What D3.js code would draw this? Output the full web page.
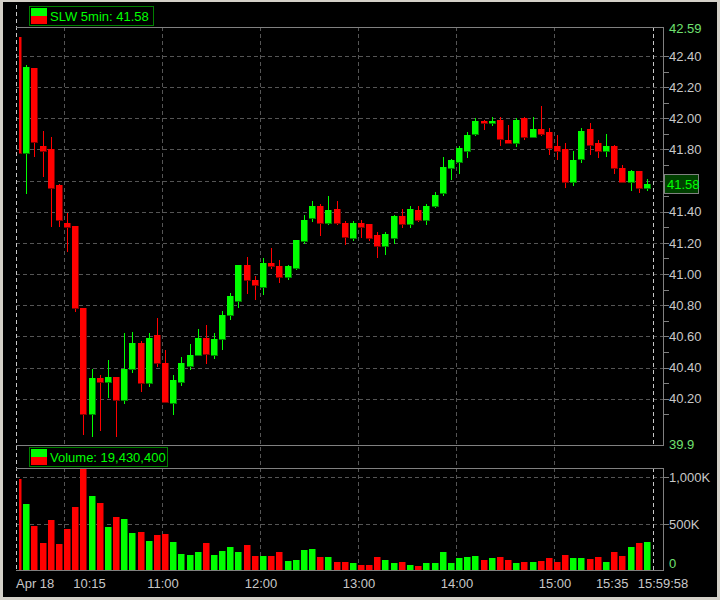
<!DOCTYPE html>
<html>
<head>
<meta charset="utf-8">
<script src="https://cdn.jsdelivr.net/npm/d3@7"></script>
<style>
html,body{margin:0;padding:0;background:#d4d0c8;}
svg{display:block;}
text{font-family:"Liberation Sans",Arial,sans-serif;font-size:13px;}
</style>
</head>
<body>
<div id="chart"></div>
<script>
// ---------------- data ----------------
const times = ["09:30","09:35","09:40","09:45","09:50","09:55","10:00","10:05","10:10","10:15","10:20","10:25",
"10:30","10:35","10:40","10:45","10:50","10:55","11:00","11:05","11:10","11:15","11:20","11:25",
"11:30","11:35","11:40","11:45","11:50","11:55","12:00","12:05","12:10","12:15","12:20","12:25",
"12:30","12:35","12:40","12:45","12:50","12:55","13:00","13:05","13:10","13:15","13:20","13:25",
"13:30","13:35","13:40","13:45","13:50","13:55","14:00","14:05","14:10","14:15","14:20","14:25",
"14:30","14:35","14:40","14:45","14:50","14:55","15:00","15:05","15:10","15:15","15:20","15:25",
"15:30","15:35","15:40","15:45","15:50","15:55"];
const opens = [42.52,41.78,42.32,41.82,41.80,41.57,41.33,41.31,40.78,40.10,40.33,40.31,
40.34,40.19,40.39,40.56,40.30,40.61,40.43,40.17,40.31,40.41,40.48,40.59,
40.48,40.58,40.74,40.83,41.06,40.96,40.92,41.07,41.05,40.98,41.04,41.21,
41.36,41.44,41.33,41.42,41.33,41.23,41.33,41.32,41.25,41.18,41.23,41.37,
41.32,41.41,41.35,41.44,41.52,41.68,41.72,41.79,41.90,41.98,41.97,41.99,
41.86,41.84,42.00,41.88,41.93,41.91,41.82,41.80,41.59,41.74,41.93,41.84,
41.79,41.82,41.68,41.59,41.66,41.55];
const highs = [42.54,42.34,42.32,41.92,41.88,41.58,41.39,41.31,40.78,40.39,40.35,40.45,
40.34,40.62,40.63,40.57,40.62,40.72,40.51,40.35,40.47,40.55,40.65,40.67,
40.62,40.76,40.88,41.06,41.11,40.99,41.10,41.17,41.09,41.06,41.22,41.38,
41.47,41.45,41.50,41.47,41.34,41.34,41.35,41.32,41.27,41.27,41.38,41.42,
41.44,41.44,41.45,41.53,41.75,41.74,41.82,41.91,42.00,41.99,42.01,42.01,
41.96,42.00,42.01,42.01,42.08,41.94,41.89,41.84,41.79,41.94,41.97,41.86,
41.90,41.83,41.70,41.67,41.66,41.61];
const lows = [41.63,41.52,41.76,41.63,41.31,41.31,41.15,40.76,39.97,39.96,40.00,40.21,
39.96,40.17,40.37,40.25,40.28,40.41,40.18,40.10,40.29,40.39,40.48,40.43,
40.46,40.52,40.71,40.79,40.88,40.84,40.875,41.04,40.95,40.97,41.03,41.20,
41.34,41.25,41.32,41.32,41.19,41.22,41.24,41.22,41.11,41.13,41.20,41.30,
41.30,41.34,41.32,41.43,41.51,41.61,41.65,41.75,41.89,41.93,41.96,41.83,
41.84,41.82,41.87,41.88,41.89,41.77,41.74,41.56,41.57,41.72,41.77,41.75,
41.76,41.65,41.59,41.54,41.53,41.54];
const closes = [41.78,42.33,41.85,41.79,41.55,41.35,41.30,40.78,40.10,40.33,40.31,40.34,
40.19,40.39,40.56,40.30,40.59,40.43,40.18,40.32,40.43,40.48,40.59,40.49,
40.58,40.74,40.86,41.06,40.96,40.93,41.07,41.05,40.98,41.05,41.22,41.35,
41.44,41.33,41.41,41.33,41.24,41.33,41.30,41.23,41.18,41.26,41.37,41.32,
41.42,41.35,41.44,41.51,41.69,41.73,41.81,41.89,41.98,41.97,41.98,41.87,
41.84,41.99,41.88,41.93,41.90,41.81,41.79,41.59,41.73,41.92,41.83,41.79,
41.82,41.68,41.59,41.66,41.55,41.58];
const volumes = [982000,713000,477000,295000,542000,284000,445000,681000,1240000,799000,724000,467000,
574000,553000,402000,413000,317000,381000,392000,306000,177000,166000,199000,295000,
166000,209000,252000,199000,274000,156000,156000,156000,199000,102000,113000,220000,
231000,145000,145000,91000,91000,80000,59000,59000,145000,113000,80000,91000,
59000,48000,80000,80000,199000,80000,134000,145000,156000,113000,134000,145000,
113000,80000,91000,91000,102000,134000,91000,166000,134000,134000,123000,145000,
91000,199000,156000,252000,295000,306000];
const priceTicks = [40.20,40.40,40.60,40.80,41.00,41.20,41.40,41.60,41.80,42.00,42.20,42.40];
const priceMinorTicks = [40.10,40.30,40.50,40.70,40.90,41.10,41.30,41.50,41.70,41.90,42.10,42.30];
const priceDomain = [39.9, 42.59];
const volTicks = [500000, 1000000];
const volTickLabels = ["500K", "1,000K"];
const hourLines = ["10:00","11:00","12:00","13:00","14:00","15:00"];
const timeTickTimes = ["09:30","10:15","11:00","12:00","13:00","14:00","15:00","15:35","16:00"];
const timeTickLabels = ["Apr 18","10:15","11:00","12:00","13:00","14:00","15:00","15:35","15:59:58"];
const symbolTitle = "SLW 5min: 41.58";
const volumeTitle = "Volume: 19,430,400";
const lastPrice = "41.58";

// ---------------- layout ----------------
const W = 720, H = 600;
const plotL = 16, plotR = 663, sessEnd = 653;
const pTop = 27, pBot = 445;
const vTop = 468, vBot = 570;
const GREEN = "#00ff00", GREEN_D = "#008000", RED = "#ff0000", RED_D = "#800000";
const GRID = "#555555", AXIS = "#808080", LABEL = "#c8c8c8", LGREEN = "#70e070";

const toMin = s => { const [h, m] = s.split(":").map(Number); return (h - 9) * 60 + m - 30; };
const x = d3.scaleLinear().domain([0, 390]).range([plotL, sessEnd]);
const y = d3.scaleLinear().domain(priceDomain).range([445.4, 26.4]);
const vy = d3.scaleLinear().domain([0, 1100000]).range([570.5, 477.3 - (570.5 - 477.3) * 0.1]);

const candles = times.map((t, i) => ({t, o: opens[i], h: highs[i], l: lows[i], c: closes[i], v: volumes[i]}));

const svg = d3.select("#chart").append("svg").attr("width", W).attr("height", H)
  .attr("shape-rendering", "crispEdges");

svg.append("rect").attr("x", 0).attr("y", 0).attr("width", W).attr("height", H).attr("fill", "#d4d0c8");
svg.append("rect").attr("x", 3).attr("y", 2).attr("width", 714).attr("height", 595).attr("fill", "#000");

const defs = svg.append("defs");
defs.append("clipPath").attr("id", "pclip").append("rect")
  .attr("x", 19).attr("y", pTop + 1).attr("width", plotR - 19).attr("height", pBot - pTop - 1);
defs.append("clipPath").attr("id", "vclip").append("rect")
  .attr("x", 19).attr("y", vTop + 1).attr("width", plotR - 19).attr("height", vBot - vTop - 1);

// ---------------- grid ----------------
const grid = svg.append("g");
priceTicks.forEach(p => {
  const yy = Math.round(y(p)) + 0.5;
  grid.append("line").attr("x1", plotL).attr("x2", plotR).attr("y1", yy).attr("y2", yy)
    .attr("stroke", GRID).attr("stroke-dasharray", "4,3");
});
volTicks.forEach(v => {
  const yy = Math.round(vy(v)) + 0.5;
  grid.append("line").attr("x1", plotL).attr("x2", plotR).attr("y1", yy).attr("y2", yy)
    .attr("stroke", GRID).attr("stroke-dasharray", "4,3");
});
hourLines.forEach(t => {
  const xx = Math.round(x(toMin(t))) - 0.5;
  grid.append("line").attr("x1", xx).attr("x2", xx).attr("y1", pTop).attr("y2", vBot)
    .attr("stroke", GRID).attr("stroke-dasharray", "4,3");
});
// session boundaries
grid.append("line").attr("x1", plotL + 0.5).attr("x2", plotL + 0.5).attr("y1", 5).attr("y2", vBot)
  .attr("stroke", LABEL).attr("stroke-dasharray", "4,3");
[[pTop, pBot], [vTop, vBot]].forEach(([a, b]) => {
  grid.append("line").attr("x1", x(390) + 0.5).attr("x2", x(390) + 0.5).attr("y1", a).attr("y2", b)
    .attr("stroke", LABEL).attr("stroke-dasharray", "4,3");
});

// ---------------- candles ----------------
const cg = svg.append("g").attr("clip-path", "url(#pclip)");
candles.forEach(d => {
  const up = d.c >= d.o;
  const left = Math.floor(x(toMin(d.t)) - 0.5);
  const col = up ? GREEN : RED, dark = up ? GREEN_D : RED_D;
  const wx = left + 3.5;
  cg.append("line").attr("x1", wx).attr("x2", wx)
    .attr("y1", Math.round(y(d.h))).attr("y2", Math.round(y(d.l)) + 1).attr("stroke", col);
  const top = Math.round(y(Math.max(d.o, d.c)));
  const bot = Math.round(y(Math.min(d.o, d.c)));
  const h = Math.max(2, bot - top);
  cg.append("rect").attr("x", left).attr("y", top).attr("width", 6).attr("height", h).attr("fill", col);
  cg.append("rect").attr("x", left + 6).attr("y", top).attr("width", 1).attr("height", h + 1).attr("fill", dark);
  cg.append("rect").attr("x", left).attr("y", top + h).attr("width", 7).attr("height", 1).attr("fill", dark);
});

// ---------------- volume bars ----------------
const vg = svg.append("g").attr("clip-path", "url(#vclip)");
candles.forEach(d => {
  const up = d.c >= d.o;
  const left = Math.floor(x(toMin(d.t)) - 0.5);
  const top = Math.round(vy(d.v));
  vg.append("rect").attr("x", left).attr("y", top).attr("width", 6).attr("height", vBot - top)
    .attr("fill", up ? GREEN : RED);
  vg.append("rect").attr("x", left + 6).attr("y", top).attr("width", 1).attr("height", vBot - top)
    .attr("fill", up ? GREEN_D : RED_D);
});

// ---------------- panel borders ----------------
const bd = svg.append("g").attr("stroke", AXIS);
[pTop, pBot, vTop, vBot].forEach(yy => {
  bd.append("line").attr("x1", plotL).attr("x2", plotR + 1).attr("y1", yy + 0.5).attr("y2", yy + 0.5);
});
bd.append("line").attr("x1", plotR + 0.5).attr("x2", plotR + 0.5).attr("y1", pTop).attr("y2", pBot + 1);
bd.append("line").attr("x1", plotR + 0.5).attr("x2", plotR + 0.5).attr("y1", vTop).attr("y2", vBot + 1);

// ---------------- price axis ----------------
const ax = svg.append("g");
const ly = y(+lastPrice);
priceMinorTicks.concat(priceTicks).forEach(p => {
  const yy = Math.round(y(p)) + 0.5;
  ax.append("line").attr("x1", plotR).attr("x2", plotR + 6).attr("y1", yy).attr("y2", yy).attr("stroke", AXIS);
});
// labels hidden behind the last-price badge are not drawn (as in the reference)
priceTicks.filter(p => Math.abs(y(p) - ly) > 14).forEach(p => {
  ax.append("text").attr("x", plotR + 6).attr("y", y(p)).attr("dy", "0.36em")
    .attr("fill", LABEL).text(p.toFixed(2));
});
ax.append("text").attr("x", plotR + 6).attr("y", y(priceDomain[1]) + 2).attr("dy", "0.36em")
  .attr("fill", LGREEN).text(priceDomain[1].toFixed(2));
ax.append("text").attr("x", plotR + 6).attr("y", y(priceDomain[0]) - 1).attr("dy", "0.36em")
  .attr("fill", LGREEN).text(String(priceDomain[0]));
// last price badge
ax.append("rect").attr("x", plotR + 1.5).attr("y", Math.round(ly) - 9.5).attr("width", 34).attr("height", 19)
  .attr("fill", "#004000").attr("stroke", AXIS);
ax.append("text").attr("x", plotR + 4).attr("y", ly).attr("dy", "0.38em").attr("fill", GREEN).text(lastPrice);

// ---------------- volume axis ----------------
volTicks.forEach((v, i) => {
  const yy = Math.round(vy(v)) + 0.5;
  ax.append("line").attr("x1", plotR).attr("x2", plotR + 6).attr("y1", yy).attr("y2", yy).attr("stroke", AXIS);
  ax.append("text").attr("x", plotR + 6).attr("y", vy(v)).attr("dy", "0.36em").attr("fill", LABEL).text(volTickLabels[i]);
});
ax.append("text").attr("x", plotR + 6).attr("y", Math.min(vy(0), vBot - 7)).attr("dy", "0.36em")
  .attr("fill", LGREEN).text("0");

// ---------------- time axis ----------------
timeTickTimes.forEach((t, i) => {
  let xx = x(toMin(t)), anchor = "middle";
  if (i === 0) { anchor = "start"; }
  if (i === timeTickTimes.length - 1) { xx = plotR; }
  svg.append("text").attr("x", xx).attr("y", 588).attr("text-anchor", anchor)
    .attr("fill", LABEL).text(timeTickLabels[i]);
});

// ---------------- legends ----------------
function legend(x0, y0, w, title) {
  const g = svg.append("g");
  g.append("rect").attr("x", x0 + 0.5).attr("y", y0 + 0.5).attr("width", w).attr("height", 19)
    .attr("fill", "#000").attr("stroke", GREEN_D);
  g.append("rect").attr("x", x0 + 2).attr("y", y0 + 2).attr("width", 16).attr("height", 8).attr("fill", GREEN);
  g.append("rect").attr("x", x0 + 2).attr("y", y0 + 10).attr("width", 16).attr("height", 8).attr("fill", RED);
  g.append("text").attr("x", x0 + 21).attr("y", y0 + 15).attr("fill", GREEN).text(title);
}
legend(29, 6, 124, symbolTitle);
legend(29, 447, 138, volumeTitle);
</script>
</body>
</html>
